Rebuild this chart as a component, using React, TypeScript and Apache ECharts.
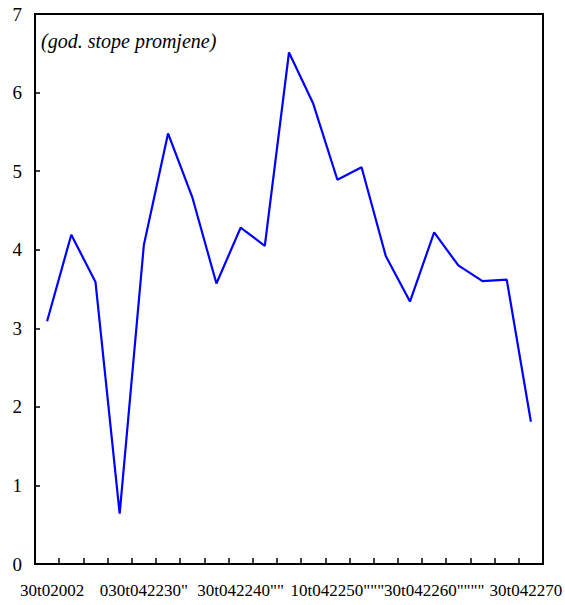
import React, { useEffect, useRef } from "react";
import * as echarts from "echarts";

const categories = [
  "Q1", "Q2", "Q3", "Q4", "Q5", "Q6", "Q7", "Q8", "Q9", "Q10", "Q11",
  "Q12", "Q13", "Q14", "Q15", "Q16", "Q17", "Q18", "Q19", "Q20", "Q21",
];
const values = [
  3.09, 4.19, 3.59, 0.64, 4.06, 5.48, 4.67, 3.57, 4.28, 4.05, 6.51,
  5.86, 4.89, 5.05, 3.92, 3.34, 4.22, 3.8, 3.6, 3.62, 1.81,
];
const xTickLabels = [
  "30t02002", "", "", "", "030t042230\"", "", "", "",
  "30t042240\"\"", "", "", "", "10t042250\"\"\"", "", "", "",
  "30t042260\"\"\"\"", "", "", "", "30t042270",
];
const yTicks = { min: 0, max: 7, interval: 1 };
const subtitle = "(god. stope promjene)";

export default function App() {
  const ref = useRef<HTMLDivElement>(null);
  useEffect(() => {
    if (!ref.current) return;
    const chart = echarts.init(ref.current, null, { renderer: "svg" });
    const font = "'Liberation Serif', 'Times New Roman', serif";
    const lastIdx = categories.length - 1;
    const catData = categories.map((c, i) =>
      i === lastIdx
        ? { value: c, textStyle: { padding: [0, 10, 0, 0] } }
        : i === 0
        ? { value: c, textStyle: { padding: [0, 0, 0, 10] } }
        : c
    );
    chart.setOption({
      animation: false,
      backgroundColor: "#fff",
      grid: {
        left: 35,
        right: 22,
        top: 14,
        bottom: 41,
        show: true,
        borderColor: "#000",
        borderWidth: 2,
        outerBoundsMode: "none",
        containLabel: false,
      },
      graphic: [
        {
          type: "text",
          left: 41,
          top: 31,
          style: {
            text: subtitle,
            font: `italic 20px ${font}`,
            fill: "#000",
          },
        },
      ],
      xAxis: {
        type: "category",
        data: catData,
        boundaryGap: true,
        axisLine: { lineStyle: { color: "#000", width: 2 } },
        axisTick: {
          show: true,
          inside: true,
          length: 6,
          interval: 0,
          lineStyle: { color: "#000", width: 1.5 },
        },
        axisLabel: {
          interval: 0,
          margin: 18,
          fontFamily: font,
          fontSize: 17,
          color: "#000",
          hideOverlap: false,
          formatter: (_v: string, i: number) => xTickLabels[i],
        },
        splitLine: { show: false },
      },
      yAxis: {
        type: "value",
        min: yTicks.min,
        max: yTicks.max,
        interval: yTicks.interval,
        axisLine: { show: true, lineStyle: { color: "#000", width: 2 } },
        axisTick: {
          show: true,
          inside: true,
          length: 5,
          lineStyle: { color: "#000", width: 1.5 },
        },
        axisLabel: {
          margin: 13,
          fontFamily: font,
          fontSize: 19,
          color: "#000",
        },
        splitLine: { show: false },
      },
      series: [
        {
          type: "line",
          data: values,
          symbol: "none",
          lineStyle: { color: "#0000FF", width: 2.2 },
        },
      ],
    });
    return () => chart.dispose();
  }, []);
  return (
    <div
      ref={ref}
      style={{ position: "fixed", left: 0, top: 0, width: 565, height: 605 }}
    />
  );
}
